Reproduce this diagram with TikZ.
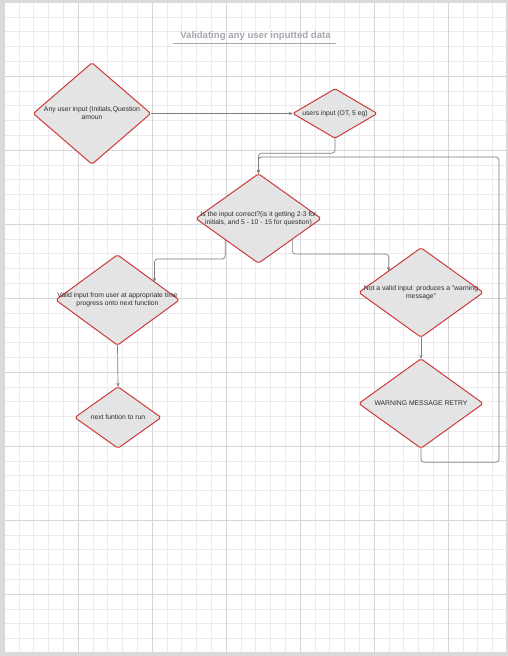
\documentclass[tikz,border=0pt]{standalone}
\usepackage{fontspec}
\setmainfont{Liberation Sans}
\usetikzlibrary{arrows.meta,calc}
\definecolor{pagegray}{HTML}{DADADA}
\definecolor{gridminor}{HTML}{EBEBEB}
\definecolor{gridmajor}{HTML}{D6D6D6}
\definecolor{shapefill}{HTML}{E4E4E4}
\definecolor{shapeline}{HTML}{CC3B3B}
\definecolor{linkgray}{HTML}{7F7F7F}
\definecolor{titlegray}{HTML}{A5A8AF}
\definecolor{labelgray}{HTML}{2E2E2E}
\pgfdeclarelayer{paper}
\pgfdeclarelayer{shapes}
\pgfsetlayers{paper,shapes,main}
\tikzset{
  decision/.style={shape=rectangle, draw=none, inner sep=0pt, align=center,
    text=labelgray, font=\fontsize{6.8}{8}\selectfont},
  diamondline/.style={fill=shapefill, draw=shapeline, line width=1pt,
    rounded corners=1.8pt},
  link/.style={draw=linkgray, line width=0.7pt, rounded corners=3pt,
    -{Stealth[length=4pt,width=3.4pt]}},
  minorline/.style={draw=gridminor, line width=0.6pt},
  majorline/.style={draw=gridmajor, line width=0.7pt}
}
% outline a decision node as a diamond through its four side anchors
\newcommand{\diamondof}[1]{%
  \draw[diamondline] (#1.north) -- (#1.east) -- (#1.south) -- (#1.west) -- cycle;}
\begin{document}
\begin{tikzpicture}[x=1pt,y=-1pt]
  \useasboundingbox (0,0) rectangle (508,656);
  \begin{pgfonlayer}{paper}
    % page and surrounding backdrop
    \fill[pagegray] (0,0) rectangle (508,656);
    \fill[white] (4,3) rectangle (506,652);
    % squared paper
    \begin{scope}
      \clip (4,3) rectangle (506,652);
      \foreach \i in {0,...,34} {\draw[minorline] ({4+14.8*\i},3) -- ({4+14.8*\i},652);}
      \foreach \j in {0,...,44} {\draw[minorline] (4,{2+14.8*\j}) -- (506,{2+14.8*\j});}
      \foreach \i in {0,...,6} {\draw[majorline] ({4+74*\i},3) -- ({4+74*\i},652);}
      \foreach \j in {0,...,8} {\draw[majorline] (4,{2+74*\j}) -- (506,{2+74*\j});}
    \end{scope}
  \end{pgfonlayer}

  % title
  \node[text=titlegray, font=\bfseries\fontsize{9.6}{11}\selectfont] (title) at (255.5,36.5)
    {Validating any user inputted data};
  \draw[titlegray, line width=0.7pt] (173,43.5) -- (336,43.5);

  % decision nodes
  \node[decision, minimum width=117, minimum height=101] (A) at (92,113.5)
    {Any user input (Initials,Question\\amoun};
  \node[decision, minimum width=84, minimum height=49] (B) at (335,113.5)
    {users input (OT, 5 eg)};
  \node[decision, minimum width=125, minimum height=89] (C) at (258.5,218.5)
    {Is the input correct?(is it getting 2-3 for\\initials, and 5 - 10 - 15 for question)};
  \node[decision, minimum width=123, minimum height=90] (D) at (117.5,300)
    {Valid input from user at appropriate time\\progress onto next function};
  \node[decision, minimum width=124, minimum height=89] (E) at (421,292.5)
    {Not a valid input\ \ produces a "warning\\message"};
  \node[decision, minimum width=124, minimum height=89] (F) at (421,403.5)
    {WARNING MESSAGE RETRY};
  \node[decision, minimum width=86, minimum height=61] (G) at (118,417.5)
    {next funtion to run};

  \begin{pgfonlayer}{shapes}
    \diamondof{A}\diamondof{B}\diamondof{C}\diamondof{D}\diamondof{E}\diamondof{F}\diamondof{G}
  \end{pgfonlayer}

  % points where side connectors leave or meet a diamond edge
  \coordinate (cLeft)  at ($(C.west)!0.47!(C.south)$);
  \coordinate (cRight) at ($(C.east)!0.46!(C.south)$);
  \coordinate (dIn)    at ($(D.north)!0.6!(D.east)$);
  \coordinate (eIn)    at ($(E.north)!0.52!(E.west)$);
  \coordinate (loopTop) at (499,157);

  % connectors
  \draw[link] (A.east) -- (B.west);
  \draw[link] (B.south) -- ++(0,15) -| (C.north);
  \draw[link] (cLeft) |- ($(dIn)+(0,-23)$) -- (dIn);
  \draw[link] (cRight) |- ($(eIn)+(0,-17)$) -- (eIn);
  \draw[link] (E.south) -- (F.north);
  \draw[link] (D.south) -- (G.north);
  \draw[link] (F.south) -- ++(0,14) -| (loopTop) -| (C.north);
\end{tikzpicture}
\end{document}
